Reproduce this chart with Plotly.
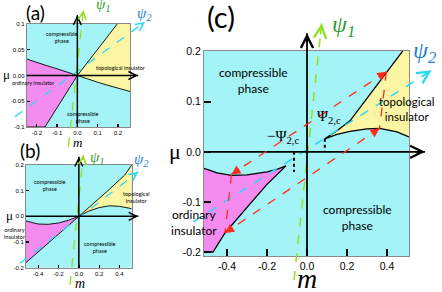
import plotly.graph_objects as go

W, H = 442, 292
SANS = "Lato"
SERIF = "Liberation Serif"

# ---------------- data ----------------
# panel (a)
a_ti_upper_m = [0.0, 0.197]
a_ti_upper_mu = [0.0, 0.1]
a_ti_lower_m = [0.0, 0.05, 0.1, 0.15, 0.2, 0.26]
a_ti_lower_mu = [0.0, -0.007, -0.013, -0.019, -0.025, -0.031]
a_oi_upper_m = [0.0, -0.05, -0.1, -0.15, -0.2, -0.25]
a_oi_upper_mu = [0.0, 0.007, 0.013, 0.019, 0.025, 0.032]
a_oi_lower_m = [0.0, -0.16, -0.25]
a_oi_lower_mu = [0.0, -0.1, -0.1]
a_psi1_m = [-0.0445, 0.0297]
a_psi1_mu = [-0.138, 0.127]
a_psi2_m = [-0.308, 0.334]
a_psi2_mu = [-0.08, 0.104]
a_xticks = [-0.2, -0.1, 0.0, 0.1, 0.2]
a_xtext = ["-0.2", "-0.1", "0.0", "0.1", "0.2"]
a_yticks = [-0.1, -0.05, 0.0, 0.05, 0.1]
a_ytext = ["-0.1", "-0.05", "0.00", "0.05", "0.1"]

# panel (b)
b_ti_upper_m = [0.0, 0.1, 0.2, 0.3, 0.4, 0.45, 0.52]
b_ti_upper_mu = [0.0, 0.034, 0.069, 0.105, 0.142, 0.16, 0.2]
b_ti_lower_m = [0.0, 0.05, 0.1, 0.2, 0.3, 0.4, 0.52]
b_ti_lower_mu = [0.0, 0.012, 0.021, 0.034, 0.041, 0.039, 0.03]
b_oi_upper_m = [0.0, -0.05, -0.1, -0.2, -0.3, -0.4, -0.52]
b_oi_upper_mu = [0.0, -0.008, -0.015, -0.026, -0.031, -0.03, -0.018]
b_oi_lower_m = [0.0, -0.52]
b_oi_lower_mu = [0.0, -0.18]
b_psi1_m = [-0.087, 0.044]
b_psi1_mu = [-0.267, 0.239]
b_psi2_m = [-0.579, 0.585]
b_psi2_mu = [-0.183, 0.174]
b_xticks = [-0.4, -0.2, 0.0, 0.2, 0.4]
b_xtext = ["-0.4", "-0.2", "0.0", "0.2", "0.4"]
b_yticks = [-0.2, -0.1, 0.0, 0.1, 0.2]
b_ytext = ["-0.2", "-0.1", "0.0", "0.1", "0.2"]

# panel (c)
c_ti_upper_m = [0.089, 0.15, 0.215, 0.3, 0.397, 0.48]
c_ti_upper_mu = [0.026, 0.042, 0.062, 0.107, 0.16, 0.202]
c_ti_lower_m = [0.089, 0.15, 0.215, 0.3, 0.363, 0.45, 0.51]
c_ti_lower_mu = [0.026, 0.035, 0.041, 0.046, 0.047, 0.04, 0.03]
c_oi_upper_m = [-0.105, -0.15, -0.2, -0.3, -0.378, -0.45, -0.515]
c_oi_upper_mu = [-0.028, -0.035, -0.04, -0.046, -0.047, -0.042, -0.033]
c_oi_lower_m = [-0.105, -0.15, -0.2, -0.287, -0.41, -0.47, -0.515]
c_oi_lower_mu = [-0.028, -0.045, -0.065, -0.105, -0.162, -0.2, -0.2]
c_psi1_m = [-0.065, 0.0735]
c_psi1_mu = [-0.256, 0.2566]
c_psi2_m = [-0.568, 0.6235]
c_psi2_mu = [-0.1396, 0.163]
c_red_m = [[0.397, -0.378], [0.363, -0.41], [0.397, 0.363], [-0.378, -0.41]]
c_red_mu = [[0.16, -0.045], [0.047, -0.162], [0.16, 0.047], [-0.045, -0.162]]
c_psi2c_m = [0.089, -0.065]
c_psi2c_mu = [[0.026, 0.0], [0.0, -0.04]]
c_xticks = [-0.4, -0.2, 0.0, 0.2, 0.4]
c_xtext = ["-0.4", "-0.2", "0.0", "0.2", "0.4"]
c_yticks = [-0.2, -0.1, 0.0, 0.1, 0.2]
c_ytext = ["-0.2", "-0.1", "0.0", "0.1", "0.2"]

# ---------------- colours ----------------
CYAN_BG = "#a4f3f7"
PINK = "#f48cf0"
YELLOW = "#fbf5a4"
GREEN_LINE = "#8ee21c"
GREEN_TXT = "#2f9d2f"
CYAN_LINE = "#2ad8f2"
BLUE_TXT = "#1f7fd0"
RED = "#ff2a1a"

# ---------------- layout geometry (pixels) ----------------
panels = {
    "a": dict(main="", ext="4", frame=(26.7, 130, 24, 127), ext_box=(0, 150, 0, 147),
              xr=[-0.25, 0.26], yr=[-0.1, 0.1]),
    "b": dict(main="2", ext="5", frame=(26, 131.7, 165, 267.7), ext_box=(0, 150, 147, 292),
              xr=[-0.52, 0.52], yr=[-0.2, 0.2]),
    "c": dict(main="3", ext="6", frame=(204, 409, 50.7, 256), ext_box=(150, 442, 0, 292),
              xr=[-0.515, 0.51], yr=[-0.208, 0.202]),
}


def dom_x(p0, p1):
    return [p0 / W, p1 / W]


def dom_y(top, bottom):
    return [1 - bottom / H, 1 - top / H]


def ext_rx(r, f0, f1, e0, e1):
    s = (r[1] - r[0]) / (f1 - f0)
    return [r[0] - (f0 - e0) * s, r[1] + (e1 - f1) * s]


def ext_ry(r, ftop, fbot, etop, ebot):
    s = (r[1] - r[0]) / (fbot - ftop)
    return [r[0] - (ebot - fbot) * s, r[1] + (ftop - etop) * s]


fig = go.Figure()
layout = dict(width=W, height=H, margin=dict(l=0, r=0, t=0, b=0),
              paper_bgcolor="white", plot_bgcolor="rgba(0,0,0,0)",
              showlegend=False, template="none")
shapes = []
annotations = []

tick_cfg = {
    "a": dict(xt=(a_xticks, a_xtext), yt=(a_yticks, a_ytext), fs=6, tl=3, tw=1.3),
    "b": dict(xt=(b_xticks, b_xtext), yt=(b_yticks, b_ytext), fs=6, tl=3, tw=1.3),
    "c": dict(xt=(c_xticks, c_xtext), yt=(c_yticks, c_ytext), fs=10.5, tl=7, tw=2.2),
}

for key, p in panels.items():
    fx0, fx1, fy0, fy1 = p["frame"]
    ex0, ex1, ey0, ey1 = p["ext_box"]
    mid, eid = p["main"], p["ext"]
    tc = tick_cfg[key]
    common = dict(showgrid=False, zeroline=False, showline=True, mirror=True,
                  linecolor="#8a8a8a", linewidth=1, ticks="inside", ticklen=tc["tl"],
                  tickwidth=tc["tw"], tickcolor="black", fixedrange=True, automargin=False,
                  tickfont=dict(family="Liberation Sans", size=tc["fs"], color="black"))
    layout["xaxis" + mid] = dict(domain=dom_x(fx0, fx1), range=p["xr"], anchor="y" + mid,
                                 tickmode="array", tickvals=tc["xt"][0], ticktext=tc["xt"][1],
                                 **common)
    layout["yaxis" + mid] = dict(domain=dom_y(fy0, fy1), range=p["yr"], anchor="x" + mid,
                                 tickmode="array", tickvals=tc["yt"][0], ticktext=tc["yt"][1],
                                 **common)
    layout["xaxis" + eid] = dict(domain=dom_x(ex0, ex1),
                                 range=ext_rx(p["xr"], fx0, fx1, ex0, ex1),
                                 anchor="y" + eid, visible=False, fixedrange=True,
                                 showgrid=False, zeroline=False)
    layout["yaxis" + eid] = dict(domain=dom_y(ey0, ey1),
                                 range=ext_ry(p["yr"], fy0, fy1, ey0, ey1),
                                 anchor="x" + eid, visible=False, fixedrange=True,
                                 showgrid=False, zeroline=False)
    shapes.append(dict(type="rect", xref="x" + mid + " domain", yref="y" + mid + " domain",
                       x0=0, x1=1, y0=0, y1=1, fillcolor=CYAN_BG, line=dict(width=0),
                       layer="below"))


def xa(i):
    return "x" + i


def ya(i):
    return "y" + i


def fill(ax, xs, ys, color):
    fig.add_trace(go.Scatter(x=xs, y=ys, fill="toself", fillcolor=color, mode="lines",
                             line=dict(width=0, color=color), hoverinfo="skip",
                             xaxis=xa(ax), yaxis=ya(ax)))


def line(ax, xs, ys, color="black", width=1.0, dash="solid"):
    fig.add_trace(go.Scatter(x=xs, y=ys, mode="lines",
                             line=dict(color=color, width=width, dash=dash),
                             hoverinfo="skip", xaxis=xa(ax), yaxis=ya(ax)))


def head(ax, tip, back, color, style, size, width, frac):
    x, y = tip
    bx, by = back
    annotations.append(dict(x=x, y=y, ax=x + (bx - x) * frac, ay=y + (by - y) * frac,
                            xref=xa(ax), yref=ya(ax), axref=xa(ax), ayref=ya(ax),
                            text="", showarrow=True, arrowhead=style, arrowsize=size,
                            arrowwidth=width, arrowcolor=color, standoff=0,
                            startstandoff=0))


def label(ax, x, y, text, size, color="black", family=SANS, xanchor="center"):
    annotations.append(dict(x=x, y=y, xref=xa(ax), yref=ya(ax), text=text,
                            showarrow=False, xanchor=xanchor, yanchor="middle",
                            font=dict(size=size, color=color, family=family)))


def phase_panel(key, ti_u, ti_l, oi_u, oi_l, bw):
    p = panels[key]
    mid = p["main"]
    xr, yr = p["xr"], p["yr"]
    tx = ti_u[0] + [xr[1]] + ti_l[0][::-1]
    ty = ti_u[1] + [yr[1]] + ti_l[1][::-1]
    fill(mid, tx, ty, YELLOW)
    ox = oi_u[0] + [xr[0]] + oi_l[0][::-1]
    oy = oi_u[1] + [oi_l[1][-1]] + oi_l[1][::-1]
    fill(mid, ox, oy, PINK)
    for cx, cy in (ti_u, ti_l, oi_u, oi_l):
        line(mid, cx, cy, "black", bw)


phase_panel("a", (a_ti_upper_m, a_ti_upper_mu), (a_ti_lower_m, a_ti_lower_mu),
            (a_oi_upper_m, a_oi_upper_mu), (a_oi_lower_m, a_oi_lower_mu), 0.9)
phase_panel("b", (b_ti_upper_m, b_ti_upper_mu), (b_ti_lower_m, b_ti_lower_mu),
            (b_oi_upper_m, b_oi_upper_mu), (b_oi_lower_m, b_oi_lower_mu), 0.9)
phase_panel("c", (c_ti_upper_m, c_ti_upper_mu), (c_ti_lower_m, c_ti_lower_mu),
            (c_oi_upper_m, c_oi_upper_mu), (c_oi_lower_m, c_oi_lower_mu), 1.3)

# ---- axes with arrows, psi lines (extended layers) ----
axis_tips = {"a": (0.30, 0.117), "b": (0.585, 0.232), "c": (0.59, 0.237)}
psi = {"a": (a_psi1_m, a_psi1_mu, a_psi2_m, a_psi2_mu),
       "b": (b_psi1_m, b_psi1_mu, b_psi2_m, b_psi2_mu),
       "c": (c_psi1_m, c_psi1_mu, c_psi2_m, c_psi2_mu)}
styles = {"a": dict(aw=1.5, gw=1.3, hs=1.2, hw=1.3),
          "b": dict(aw=1.5, gw=1.3, hs=1.2, hw=1.3),
          "c": dict(aw=1.8, gw=1.5, hs=1.5, hw=1.6)}

for key, p in panels.items():
    e = p["ext"]
    xr, yr = p["xr"], p["yr"]
    tx, ty = axis_tips[key]
    st = styles[key]
    p1m, p1u, p2m, p2u = psi[key]
    line(e, p1m, p1u, GREEN_LINE, st["gw"], "dash")
    line(e, p2m, p2u, CYAN_LINE, st["gw"], "dash")
    line(e, [xr[0], tx], [0, 0], "black", st["aw"])
    line(e, [0, 0], [yr[0], ty], "black", st["aw"])
    head(e, (tx, 0), (xr[0], 0), "black", 5, st["hs"], st["hw"], 0.05)
    head(e, (0, ty), (0, yr[0]), "black", 5, st["hs"], st["hw"], 0.05)
    head(e, (p1m[1], p1u[1]), (p1m[0], p1u[0]), GREEN_LINE, 5, st["hs"], st["hw"], 0.05)
    head(e, (p2m[1], p2u[1]), (p2m[0], p2u[0]), CYAN_LINE, 5, st["hs"], st["hw"], 0.04)

# red arrows & psi_2c marks in (c)
for rm, ru in zip(c_red_m, c_red_mu):
    line("6", rm, ru, RED, 1.3, "dash")
    head("6", (rm[0], ru[0]), (rm[1], ru[1]), RED, 2, 1.4, 1.3, 0.06)
    head("6", (rm[1], ru[1]), (rm[0], ru[0]), RED, 2, 1.4, 1.3, 0.06)
for dm, du in zip(c_psi2c_m, c_psi2c_mu):
    line("6", [dm, dm], du, "black", 2, "dot")

# ---- text labels ----
# (a)
label("4", -0.209, 0.123, "(a)", 19)
label("4", 0.13, 0.137, "<i>ψ<sub>1</sub></i>", 15, GREEN_TXT, SERIF)
label("4", 0.33, 0.12, "<i>ψ<sub>2</sub></i>", 15, BLUE_TXT, SERIF)
label("4", -0.352, 0.002, "μ", 13, "black", SERIF)
label("4", 0.0, -0.131, "<i>m</i>", 13, "black", SERIF)
label("4", -0.076, 0.073, "compressible<br>phase", 5.5)
label("4", 0.211, 0.0146, "topological insulator", 5.5)
label("4", -0.219, -0.0146, "ordinary insulator", 5.5)
label("4", 0.028, -0.0806, "compressible<br>phase", 5.5)
# (b)
label("5", -0.48, 0.258, "(b)", 19)
label("5", 0.179, 0.227, "<i>ψ<sub>1</sub></i>", 15, GREEN_TXT, SERIF)
label("5", 0.62, 0.219, "<i>ψ<sub>2</sub></i>", 15, BLUE_TXT, SERIF)
label("5", -0.678, 0.004, "μ", 13, "black", SERIF)
label("5", 0.01, -0.262, "<i>m</i>", 14, "black", SERIF)
label("5", -0.284, 0.122, "compressible<br>phase", 5.5)
label("5", 0.5625, 0.0715, "topological<br>insulator", 5.5)
label("5", -0.637, -0.065, "ordinary<br>insulator", 5.5)
label("5", 0.208, -0.12, "compressible<br>phase", 5.5)
# (c)
label("6", -0.43, 0.27, "(c)", 29)
label("6", 0.18, 0.252, "<i>ψ<sub>1</sub></i>", 24, GREEN_TXT, SERIF)
label("6", 0.59, 0.199, "<i>ψ<sub>2</sub></i>", 24, BLUE_TXT, SERIF)
label("6", -0.66, 0.0, "μ", 22, "black", SERIF)
label("6", 0.0, -0.253, "<i>m</i>", 28, "black", SERIF)
label("6", -0.27, 0.1434, "compressible<br>phase", 12)
label("6", 0.495, 0.0865, "topological<br>insulator", 11.5)
label("6", -0.565, -0.142, "ordinary<br>insulator", 12)
label("6", 0.2525, -0.132, "compressible<br>phase", 12)
label("6", 0.11, 0.0695, "Ψ<sub>2,c</sub>", 15, "black", SERIF)
label("6", -0.12, 0.0296, "−Ψ<sub>2,c</sub>", 15, "black", SERIF)

layout["shapes"] = shapes
layout["annotations"] = annotations
fig.update_layout(**layout)
fig.write_html("out.html", config={"displayModeBar": False, "staticPlot": True},
               post_script="document.body.style.margin='0';document.body.style.overflow='hidden';")
